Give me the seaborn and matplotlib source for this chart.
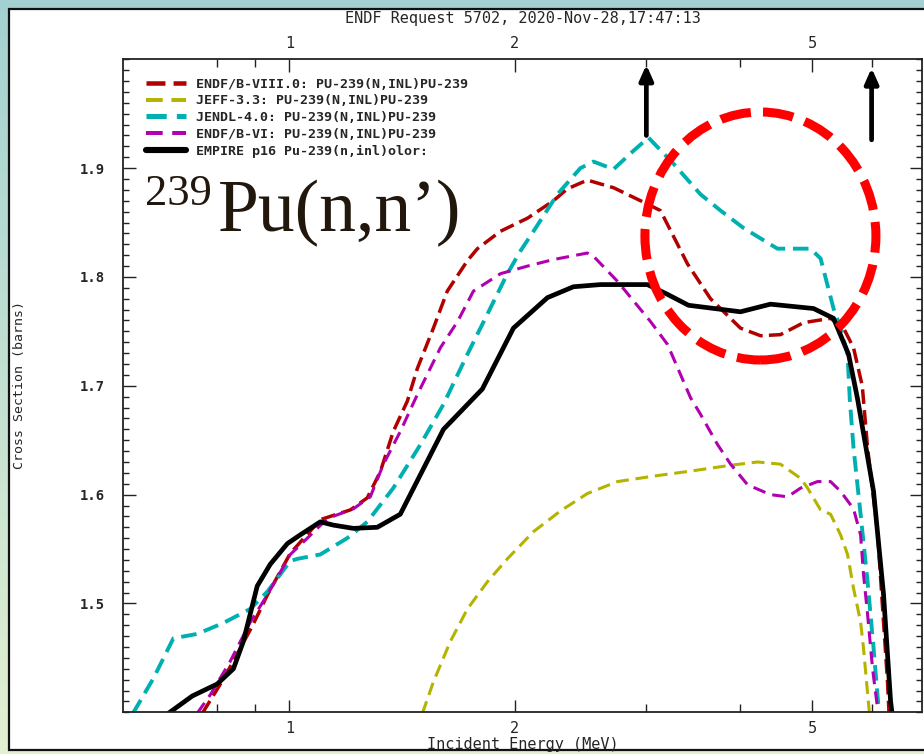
import numpy as np
import pandas as pd
import matplotlib
matplotlib.use("Agg")
import matplotlib.pyplot as plt
from matplotlib.patches import Ellipse, Rectangle
from matplotlib.ticker import FixedLocator, FixedFormatter, NullFormatter, MultipleLocator, FormatStrFormatter
import seaborn as sns

# ---- evaluated cross sections, Pu-239 inelastic (energy in MeV, sigma in barns) ----
e_endf8 = [0.765, 0.809, 0.842, 0.895, 0.935, 1.003, 1.100, 1.207, 1.271, 1.323, 1.377, 1.438,
           1.483, 1.558, 1.626, 1.730, 1.784, 1.915, 2.081, 2.254, 2.353, 2.502, 2.712, 3.010,
           3.133, 3.405, 3.655, 4.008, 4.264, 4.532, 4.866, 5.288, 5.504, 5.675, 5.830, 5.926,
           6.110, 6.301, 6.330]
xs_endf8 = [1.399, 1.426, 1.447, 1.481, 1.508, 1.546, 1.577, 1.586, 1.597, 1.621, 1.658, 1.686,
            1.716, 1.753, 1.787, 1.815, 1.826, 1.842, 1.854, 1.870, 1.881, 1.889, 1.882, 1.867,
            1.861, 1.812, 1.780, 1.753, 1.746, 1.747, 1.758, 1.762, 1.753, 1.735, 1.700, 1.643,
            1.566, 1.428, 1.399]

e_jeff = [1.506, 1.558, 1.641, 1.730, 1.840, 1.956, 2.120, 2.303, 2.502, 2.745, 3.067, 3.468,
          3.888, 4.224, 4.532, 4.822, 4.927, 5.128, 5.288, 5.454, 5.572, 5.675, 5.800, 5.852,
          5.940, 5.960]
xs_jeff = [1.399, 1.428, 1.465, 1.495, 1.520, 1.541, 1.566, 1.585, 1.601, 1.612, 1.617, 1.622,
           1.627, 1.630, 1.628, 1.615, 1.606, 1.586, 1.582, 1.563, 1.545, 1.514, 1.483, 1.459,
           1.410, 1.399]

e_jendl = [0.618, 0.658, 0.700, 0.753, 0.816, 0.887, 0.935, 1.003, 1.025, 1.100, 1.195, 1.271,
           1.377, 1.497, 1.607, 1.730, 1.840, 1.956, 2.037, 2.120, 2.282, 2.449, 2.550, 2.712,
           2.884, 3.020, 3.262, 3.543, 3.770, 4.045, 4.491, 4.972, 5.128, 5.337, 5.454, 5.572,
           5.610, 5.675, 5.800, 5.926, 6.036, 6.130]
xs_jendl = [1.399, 1.431, 1.468, 1.472, 1.482, 1.495, 1.511, 1.539, 1.541, 1.545, 1.560, 1.575,
            1.606, 1.646, 1.683, 1.729, 1.766, 1.803, 1.824, 1.842, 1.876, 1.900, 1.906, 1.899,
            1.916, 1.928, 1.904, 1.876, 1.861, 1.845, 1.826, 1.826, 1.817, 1.771, 1.753, 1.729,
            1.688, 1.643, 1.582, 1.520, 1.459, 1.404]

e_endf6 = [0.753, 0.784, 0.834, 0.887, 0.935, 1.003, 1.057, 1.124, 1.218, 1.283, 1.336, 1.407,
           1.483, 1.592, 1.678, 1.762, 1.915, 2.081, 2.254, 2.502, 2.550, 2.745, 2.884, 3.039,
           3.202, 3.437, 3.543, 3.735, 3.888, 4.097, 4.395, 4.632, 4.822, 5.080, 5.288, 5.454,
           5.675, 5.800, 5.852, 5.926, 6.018, 6.110]
xs_endf6 = [1.399, 1.416, 1.447, 1.483, 1.508, 1.545, 1.560, 1.578, 1.587, 1.598, 1.628, 1.658,
            1.692, 1.735, 1.759, 1.787, 1.803, 1.810, 1.816, 1.822, 1.819, 1.796, 1.778, 1.759,
            1.738, 1.689, 1.674, 1.646, 1.628, 1.609, 1.600, 1.598, 1.606, 1.612, 1.612, 1.603,
            1.587, 1.563, 1.527, 1.490, 1.440, 1.404]

e_empire = [0.689, 0.742, 0.801, 0.842, 0.868, 0.906, 0.943, 0.994, 1.034, 1.100, 1.145, 1.218,
            1.311, 1.407, 1.607, 1.811, 1.993, 2.213, 2.397, 2.605, 3.010, 3.202, 3.415, 4.008,
            4.395, 5.018, 5.337, 5.589, 5.746, 6.036, 6.225, 6.361, 6.390]
xs_empire = [1.399, 1.415, 1.426, 1.440, 1.465, 1.516, 1.536, 1.555, 1.563, 1.575, 1.572, 1.569,
             1.570, 1.582, 1.660, 1.697, 1.753, 1.781, 1.791, 1.793, 1.793, 1.784, 1.774, 1.768,
             1.775, 1.771, 1.762, 1.729, 1.688, 1.603, 1.508, 1.410, 1.399]

series_labels = [
    "ENDF/B-VIII.0: PU-239(N,INL)PU-239",
    "JEFF-3.3: PU-239(N,INL)PU-239",
    "JENDL-4.0: PU-239(N,INL)PU-239",
    "ENDF/B-VI: PU-239(N,INL)PU-239",
    "EMPIRE p16 Pu-239(n,inl)olor:",
]

# axis ticks
x_major = [1, 2, 5]
x_major_labels = ["1", "2", "5"]
x_minor = [0.8, 0.9, 3, 4, 6]
y_major = [1.5, 1.6, 1.7, 1.8, 1.9]

# energies marked with arrows (MeV), arrow tail/head heights (barns)
arrow_e = [3.0, 6.0]
arrow_tail = [1.930, 1.926]
arrow_head = [1.995, 1.992]

title_text = "ENDF Request 5702, 2020-Nov-28,17:47:13"

sns.set_style("ticks")
plt.rcParams["font.family"] = ["DejaVu Sans Mono", "DejaVu Sans"]
narrow = ["Liberation Sans Narrow", "DejaVu Sans Mono"]

W, H = 924, 754
fig = plt.figure(figsize=(W / 100, H / 100), dpi=100)

# gradient page background
bg = fig.add_axes([0, 0, 1, 1], zorder=-10)
top_c = np.array([0.64, 0.82, 0.82])
bot_c = np.array([0.89, 0.94, 0.82])
t = np.linspace(0, 1, 256)[:, None]
grad = (top_c * (1 - t) + bot_c * t)[:, None, :]
bg.imshow(grad, aspect="auto", extent=[0, 1, 0, 1], origin="upper")
bg.axis("off")

# white plotting panel
fig.add_artist(Rectangle((9 / W, 4 / H), 1.0, 1 - 13 / H, transform=fig.transFigure,
                         facecolor="white", edgecolor="#111111", linewidth=1.6, zorder=-5))

ax = fig.add_axes([123.3 / W, 1 - 712.3 / H, (921.7 - 123.3) / W, (712.3 - 59.3) / H])
ax.set_facecolor("white")

series = [
    (e_endf8, xs_endf8, "#b00000", 2.5, (0, (4.2, 1.8))),
    (e_jeff, xs_jeff, "#b4b400", 2.2, (0, (4.2, 2.2))),
    (e_jendl, xs_jendl, "#00b0b0", 2.8, (0, (4.0, 2.0))),
    (e_endf6, xs_endf6, "#b000b0", 2.2, (0, (4.2, 2.4))),
    (e_empire, xs_empire, "#000000", 3.4, "-"),
]
for (e, xs, col, lw, ls), lab in zip(series, series_labels):
    df = pd.DataFrame({"E": e, "sigma": xs})
    sns.lineplot(data=df, x="E", y="sigma", ax=ax, color=col, linewidth=lw,
                 linestyle=ls, estimator=None, sort=False, label=lab)

ax.set_xscale("log")
ax.set_xlim(0.6, 7.0)
ax.set_ylim(1.4, 2.0)
ax.set_xlabel("")
ax.set_ylabel("")

ax.xaxis.set_major_locator(FixedLocator(x_major))
ax.xaxis.set_major_formatter(FixedFormatter(x_major_labels))
ax.xaxis.set_minor_locator(FixedLocator(x_minor))
ax.xaxis.set_minor_formatter(NullFormatter())
ax.yaxis.set_major_locator(FixedLocator(y_major))
ax.yaxis.set_major_formatter(FormatStrFormatter("%.1f"))
ax.yaxis.set_minor_locator(MultipleLocator(0.01))

ax.tick_params(which="both", direction="in", top=True, right=True, bottom=True, left=True,
               labeltop=True, labelbottom=True, labelright=False, color="#222222", width=1.0)
ax.tick_params(which="major", axis="y", length=9, pad=13)
ax.tick_params(which="minor", axis="y", length=4)
ax.tick_params(which="major", axis="x", length=9, pad=6)
ax.tick_params(which="minor", axis="x", length=6)
for lab in ax.get_xticklabels():
    lab.set_fontfamily(narrow)
    lab.set_fontsize(11)
for lab in ax.get_yticklabels():
    lab.set_fontsize(10)
    lab.set_fontweight("bold")
for sp in ax.spines.values():
    sp.set_linewidth(1.3)
    sp.set_color("#222222")

handles, labels = ax.get_legend_handles_labels()
leg = ax.legend(handles, labels, loc="upper left", bbox_to_anchor=(0.029, 0.972),
                frameon=False, borderpad=0, borderaxespad=0, labelspacing=0.28,
                handlelength=3.0, handletextpad=0.75,
                prop={"family": "DejaVu Sans Mono", "weight": "bold", "size": 9.6})
for h in leg.get_lines():
    h.set_linewidth(h.get_linewidth() * 1.3)

# arrows marking energies of interest
for xe, y0, y1 in zip(arrow_e, arrow_tail, arrow_head):
    ax.annotate("", xy=(xe, y1), xytext=(xe, y0), xycoords="data",
                arrowprops=dict(arrowstyle="-|>,head_length=0.9,head_width=0.4",
                                color="black", lw=3.4, shrinkA=0, shrinkB=0),
                annotation_clip=False)

# highlighted region
ax.add_patch(Ellipse((0.798, 0.7294), 0.2893, 0.3798, transform=ax.transAxes,
                     fill=False, edgecolor="#ff0000", linewidth=6.5,
                     linestyle=(0, (3.4, 1.35)), zorder=5))

# reaction label
fig.text(145 / W, 1 - 205 / H, "239", fontfamily="Liberation Serif", fontsize=32,
         color="#21170c", ha="left", va="baseline")
fig.text(218 / W, 1 - 231 / H, "Pu(n,n\u2019)", fontfamily="Liberation Serif", fontsize=53,
         color="#21170c", ha="left", va="baseline")

fig.text(522.5 / W, 1 - 19 / H, title_text, fontfamily=narrow, fontsize=11,
         ha="center", va="center")
fig.text(522.5 / W, 1 - 745 / H, "Incident Energy (MeV)", fontfamily=narrow, fontsize=11,
         ha="center", va="center")
fig.text(20 / W, 1 - 385 / H, "Cross Section (barns)", fontsize=9.5, rotation=90,
         ha="center", va="center")

fig.savefig("out.png", dpi=100)
